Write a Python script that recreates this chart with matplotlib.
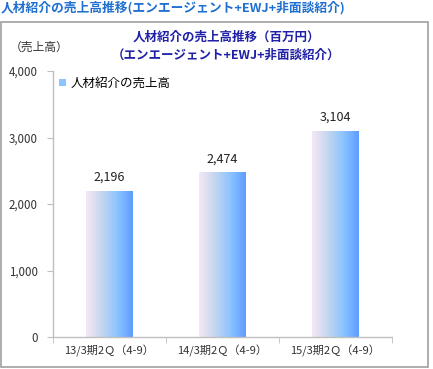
import numpy as np
import matplotlib
matplotlib.use("Agg")
import matplotlib.pyplot as plt
from matplotlib.colors import LinearSegmentedColormap
from matplotlib.patches import Rectangle, Patch

plt.rcParams['font.family'] = ['Noto Sans CJK JP', 'DejaVu Sans']

categories = ["13/3期2Ｑ（4-9）", "14/3期2Ｑ（4-9）", "15/3期2Ｑ（4-9）"]
values = [2196, 2474, 3104]
value_labels = ["2,196", "2,474", "3,104"]
yticks = [0, 1000, 2000, 3000, 4000]
ytick_labels = ["0", "1,000", "2,000", "3,000", "4,000"]
series_name = "人材紹介の売上高"
page_title = "人材紹介の売上高推移(エンエージェント+EWJ+非面談紹介)"
chart_title = "人材紹介の売上高推移（百万円）\n（エンエージェント+EWJ+非面談紹介）"
y_unit = "（売上高）"

W, H = 433, 369
fig = plt.figure(figsize=(W/100, H/100), dpi=100)

# outer frame
fig.add_artist(Rectangle((1/W, 1 - 367/H), 427/W, 345/H, transform=fig.transFigure,
                         fill=False, edgecolor="#a0a0a0", linewidth=1.2))

fig.text(1/W, 1 - 8/H, page_title, fontsize=9.2, fontweight='bold', color="#1e6fd0",
         ha='left', va='center')
fig.text(226/W, 1 - 46/H, chart_title, fontsize=9, fontweight='bold', color="#2020a8",
         ha='center', va='center', linespacing=1.55)
fig.text(10/W, 1 - 47/H, y_unit, fontsize=8.5, color="#333333", ha='left', va='center')

ax = fig.add_axes([53/W, 1 - 337/H, 339/W, 266/H])
x = np.arange(len(categories))
bars = ax.bar(x, values, width=0.41, color="none", edgecolor="none", zorder=2)

cmap = LinearSegmentedColormap.from_list("g", ["#f6e8f6", "#c6d6ee", "#8cc4ff", "#5e9cff"])
grad = np.linspace(0, 1, 256).reshape(1, -1)
for b in bars:
    x0, y0 = b.get_x(), b.get_y()
    w, h = b.get_width(), b.get_height()
    im = ax.imshow(grad, cmap=cmap, aspect='auto', extent=(x0, x0 + w, y0, y0 + h),
                   zorder=2, interpolation='bilinear')
    im.set_clip_path(b)

for xi, v, lab in zip(x, values, value_labels):
    ax.annotate(lab, (xi, v), xytext=(0, 5), textcoords='offset points',
                ha='center', va='bottom', fontsize=9, color="#222222")

ax.set_xlim(-0.5, len(categories) - 0.5)
ax.set_ylim(0, 4000)
ax.set_yticks(yticks)
ax.set_yticklabels(ytick_labels, fontsize=8.3, color="#333333")
ax.set_xticks(x)
ax.set_xticklabels(categories, fontsize=8, color="#333333")
ax.set_xticks(np.arange(len(categories) + 1) - 0.5, minor=True)
ax.tick_params(axis='x', which='major', length=0, pad=6)
ax.tick_params(axis='x', which='minor', length=4, color="#bfbfbf", direction='out')
ax.tick_params(axis='y', length=4, color="#bfbfbf", pad=7)
for s in ['top', 'right']:
    ax.spines[s].set_visible(False)
for s in ['left', 'bottom']:
    ax.spines[s].set_color("#bfbfbf")
    ax.spines[s].set_linewidth(1)

# legend
leg = ax.legend([Patch(facecolor="#8cc4ff", edgecolor="none")], [series_name],
                loc='upper left', bbox_to_anchor=(0.0, 1.0), frameon=False,
                fontsize=9, handlelength=0.5, handleheight=0.5, handletextpad=0.4,
                borderaxespad=0.1)

ax.set_xlim(-0.5, len(categories) - 0.5)
ax.set_ylim(0, 4000)
fig.savefig("out.png", dpi=100)
